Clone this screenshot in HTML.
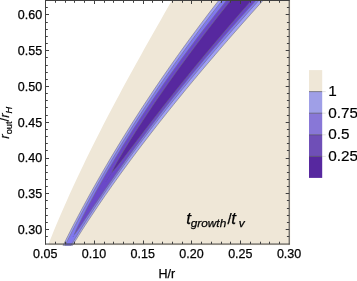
<!DOCTYPE html>
<html><head><meta charset="utf-8"><title>Contour plot</title>
<style>html,body{margin:0;padding:0;background:#fff;}body{width:357px;height:281px;overflow:hidden;position:relative;}</style>
</head><body>
<svg width="357" height="281" viewBox="0 0 357 281" style="display:block;position:absolute;left:0;top:0">
<rect x="0" y="0" width="357" height="281" fill="#fff"/>
<defs><clipPath id="cp"><rect x="45.5" y="0" width="244.7" height="245.2"/></clipPath></defs>
<g clip-path="url(#cp)">
<polygon fill="#EFE7D7" points="47.85,245.70 49.84,240.67 51.87,235.63 53.93,230.60 56.02,225.56 58.14,220.53 60.29,215.49 62.47,210.46 64.68,205.42 66.91,200.39 69.17,195.35 71.46,190.32 73.77,185.28 76.11,180.25 78.48,175.21 80.86,170.18 83.28,165.14 85.71,160.11 88.17,155.08 90.65,150.04 93.15,145.01 95.68,139.97 98.22,134.94 100.78,129.90 103.37,124.87 105.97,119.83 108.59,114.80 111.23,109.76 113.89,104.73 116.56,99.69 119.25,94.66 121.96,89.62 124.68,84.59 127.41,79.56 130.16,74.52 132.93,69.49 135.70,64.45 138.49,59.42 141.29,54.38 144.10,49.35 146.93,44.31 149.76,39.28 152.60,34.24 155.45,29.21 158.32,24.17 161.19,19.14 164.06,14.10 166.95,9.07 169.84,4.03 172.73,-1.00 300.00,-1.00 300.00,245.70"/>
</g>
<defs><clipPath id="cp2"><rect x="45.5" y="0" width="244.7" height="245.7"/></clipPath></defs>
<g clip-path="url(#cp2)" stroke="rgba(115,115,120,0.8)" stroke-width="0.7">
<polygon fill="#A0A0F5" points="62.95,245.70 65.46,240.67 67.99,235.63 70.55,230.60 73.14,225.56 75.76,220.53 78.40,215.49 81.08,210.46 83.79,205.42 86.52,200.39 89.29,195.35 92.08,190.32 94.90,185.28 97.75,180.25 100.63,175.21 103.54,170.18 106.48,165.14 109.45,160.11 112.45,155.08 115.47,150.04 118.53,145.01 121.61,139.97 124.73,134.94 127.87,129.90 131.04,124.87 134.24,119.83 137.47,114.80 140.73,109.76 144.02,104.73 147.34,99.69 150.68,94.66 154.06,89.62 157.46,84.59 160.90,79.56 164.36,74.52 167.85,69.49 171.37,64.45 174.92,59.42 178.50,54.38 182.11,49.35 185.75,44.31 189.42,39.28 193.11,34.24 196.84,29.21 200.59,24.17 204.38,19.14 208.19,14.10 212.03,9.07 215.90,4.03 219.80,-1.00 264.38,-1.00 259.83,4.03 255.31,9.07 250.80,14.10 246.31,19.14 241.84,24.17 237.40,29.21 232.97,34.24 228.57,39.28 224.19,44.31 219.83,49.35 215.50,54.38 211.19,59.42 206.90,64.45 202.64,69.49 198.40,74.52 194.19,79.56 190.00,84.59 185.84,89.62 181.71,94.66 177.60,99.69 173.53,104.73 169.48,109.76 165.46,114.80 161.46,119.83 157.50,124.87 153.57,129.90 149.66,134.94 145.79,139.97 141.95,145.01 138.14,150.04 134.36,155.08 130.62,160.11 126.91,165.14 123.23,170.18 119.58,175.21 115.97,180.25 112.40,185.28 108.86,190.32 105.35,195.35 101.88,200.39 98.45,205.42 95.06,210.46 91.70,215.49 88.38,220.53 85.09,225.56 81.85,230.60 78.65,235.63 75.48,240.67 72.36,245.70"/>
<polygon fill="#8078EE" points="64.91,245.70 67.42,240.67 69.97,235.63 72.54,230.60 75.14,225.56 77.77,220.53 80.43,215.49 83.12,210.46 85.85,205.42 88.60,200.39 91.38,195.35 94.19,190.32 97.03,185.28 99.90,180.25 102.81,175.21 105.74,170.18 108.70,165.14 111.69,160.11 114.71,155.08 117.76,150.04 120.84,145.01 123.96,139.97 127.10,134.94 130.27,129.90 133.47,124.87 136.70,119.83 139.96,114.80 143.25,109.76 146.57,104.73 149.92,99.69 153.31,94.66 156.72,89.62 160.16,84.59 163.63,79.56 167.13,74.52 170.66,69.49 174.22,64.45 177.81,59.42 181.43,54.38 185.08,49.35 188.76,44.31 192.47,39.28 196.21,34.24 199.98,29.21 203.78,24.17 207.62,19.14 211.48,14.10 215.37,9.07 219.29,4.03 223.24,-1.00 260.18,-1.00 255.63,4.03 251.11,9.07 246.62,14.10 242.14,19.14 237.69,24.17 233.26,29.21 228.86,34.24 224.47,39.28 220.12,44.31 215.79,49.35 211.48,54.38 207.20,59.42 202.95,64.45 198.72,69.49 194.52,74.52 190.35,79.56 186.21,84.59 182.09,89.62 178.01,94.66 173.95,99.69 169.92,104.73 165.92,109.76 161.95,114.80 158.02,119.83 154.11,124.87 150.24,129.90 146.39,134.94 142.58,139.97 138.81,145.01 135.06,150.04 131.35,155.08 127.68,160.11 124.03,165.14 120.43,170.18 116.86,175.21 113.32,180.25 109.82,185.28 106.36,190.32 102.93,195.35 99.54,200.39 96.19,205.42 92.88,210.46 89.60,215.49 86.37,220.53 83.17,225.56 80.01,230.60 76.90,235.63 73.82,240.67 70.79,245.70"/>
<polygon fill="#6A48C8" points="74.77,233.80 74.73,233.76 74.73,233.65 74.76,233.46 74.84,233.20 74.96,232.86 75.11,232.45 75.31,231.96 75.55,231.39 75.82,230.75 76.14,230.04 76.50,229.25 76.89,228.38 77.33,227.44 77.81,226.43 78.34,225.34 78.90,224.17 79.51,222.93 80.16,221.61 80.85,220.22 81.58,218.75 82.36,217.21 83.19,215.59 84.06,213.90 84.97,212.13 85.93,210.29 86.93,208.37 87.99,206.37 89.09,204.30 90.23,202.16 91.43,199.94 92.67,197.65 93.97,195.27 95.31,192.83 96.71,190.31 98.16,187.71 99.66,185.04 101.21,182.30 102.82,179.47 104.48,176.58 106.20,173.60 107.97,170.56 109.81,167.43 111.70,164.24 113.65,160.96 115.65,157.62 117.73,154.19 119.86,150.69 122.05,147.12 124.31,143.47 126.64,139.74 129.03,135.94 131.49,132.07 134.01,128.12 136.61,124.09 139.27,119.99 142.01,115.82 144.82,111.57 147.71,107.24 150.66,102.84 153.70,98.36 156.81,93.81 160.01,89.18 163.28,84.48 166.63,79.70 170.07,74.85 173.59,69.92 177.20,64.91 180.90,59.84 184.68,54.68 188.55,49.45 192.52,44.15 196.57,38.77 200.73,33.31 204.97,27.78 209.32,22.18 213.77,16.49 218.31,10.74 222.96,4.91 227.71,-1.00 257.20,-1.00 251.83,4.91 246.57,10.74 241.42,16.49 236.37,22.18 231.43,27.78 226.59,33.31 221.86,38.77 217.23,44.15 212.69,49.45 208.26,54.68 203.92,59.84 199.67,64.91 195.52,69.92 191.46,74.85 187.50,79.70 183.62,84.48 179.83,89.18 176.12,93.81 172.50,98.36 168.97,102.84 165.51,107.24 162.14,111.57 158.85,115.82 155.64,119.99 152.51,124.09 149.45,128.12 146.47,132.07 143.56,135.94 140.73,139.74 137.97,143.47 135.28,147.12 132.66,150.69 130.11,154.19 127.63,157.62 125.21,160.96 122.86,164.24 120.58,167.43 118.36,170.56 116.21,173.60 114.12,176.58 112.09,179.47 110.12,182.30 108.21,185.04 106.36,187.71 104.57,190.31 102.84,192.83 101.17,195.27 99.55,197.65 97.99,199.94 96.48,202.16 95.03,204.30 93.64,206.37 92.29,208.37 91.00,210.29 89.76,212.13 88.58,213.90 87.44,215.59 86.36,217.21 85.33,218.75 84.35,220.22 83.41,221.61 82.53,222.93 81.69,224.17 80.91,225.34 80.17,226.43 79.48,227.44 78.84,228.38 78.24,229.25 77.70,230.04 77.19,230.75 76.74,231.39 76.33,231.96 75.97,232.45 75.66,232.86 75.39,233.20 75.17,233.46 74.99,233.65 74.86,233.76 74.77,233.80"/>
<polygon fill="#57289F" points="112.36,171.80 112.29,171.77 112.25,171.69 112.26,171.55 112.29,171.36 112.37,171.11 112.47,170.80 112.62,170.44 112.79,170.03 113.01,169.56 113.26,169.03 113.55,168.45 113.87,167.81 114.23,167.12 114.62,166.37 115.05,165.57 115.52,164.71 116.02,163.80 116.56,162.83 117.14,161.80 117.75,160.72 118.40,159.59 119.09,158.40 119.82,157.15 120.59,155.85 121.39,154.50 122.23,153.08 123.11,151.62 124.03,150.09 124.99,148.51 125.99,146.88 127.02,145.19 128.10,143.45 129.22,141.65 130.38,139.79 131.58,137.88 132.82,135.92 134.10,133.90 135.43,131.82 136.80,129.69 138.21,127.50 139.66,125.26 141.16,122.96 142.70,120.61 144.29,118.20 145.92,115.73 147.59,113.21 149.31,110.64 151.08,108.01 152.90,105.32 154.76,102.58 156.67,99.78 158.63,96.93 160.63,94.02 162.69,91.06 164.79,88.04 166.95,84.97 169.16,81.84 171.41,78.66 173.72,75.42 176.09,72.12 178.50,68.77 180.97,65.37 183.49,61.91 186.07,58.39 188.70,54.82 191.39,51.19 194.14,47.51 196.94,43.77 199.81,39.98 202.73,36.13 205.71,32.23 208.75,28.27 211.85,24.25 215.01,20.18 218.24,16.06 221.52,11.87 224.88,7.64 228.29,3.35 231.77,-1.00 252.89,-1.00 249.05,3.35 245.28,7.64 241.57,11.87 237.93,16.06 234.36,20.18 230.85,24.25 227.40,28.27 224.02,32.23 220.70,36.13 217.44,39.98 214.24,43.77 211.10,47.51 208.03,51.19 205.01,54.82 202.05,58.39 199.15,61.91 196.30,65.37 193.51,68.77 190.78,72.12 188.10,75.42 185.48,78.66 182.92,81.84 180.40,84.97 177.94,88.04 175.53,91.06 173.18,94.02 170.87,96.93 168.62,99.78 166.42,102.58 164.26,105.32 162.16,108.01 160.11,110.64 158.10,113.21 156.14,115.73 154.23,118.20 152.37,120.61 150.56,122.96 148.79,125.26 147.06,127.50 145.38,129.69 143.75,131.82 142.16,133.90 140.62,135.92 139.12,137.88 137.67,139.79 136.25,141.65 134.88,143.45 133.56,145.19 132.27,146.88 131.03,148.51 129.83,150.09 128.67,151.62 127.56,153.08 126.48,154.50 125.45,155.85 124.45,157.15 123.50,158.40 122.58,159.59 121.71,160.72 120.87,161.80 120.08,162.83 119.32,163.80 118.61,164.71 117.93,165.57 117.29,166.37 116.69,167.12 116.13,167.81 115.60,168.45 115.12,169.03 114.67,169.56 114.26,170.03 113.89,170.44 113.56,170.80 113.27,171.11 113.01,171.36 112.79,171.55 112.61,171.69 112.46,171.77 112.36,171.80"/>
<path d="M112.36 171.80 L111.78 172.68 L111.20 173.56 L110.62 174.45 L110.04 175.33 L109.46 176.21 L108.88 177.09 L108.31 177.97 L107.73 178.85 L107.16 179.74 L106.58 180.62 L106.01 181.50" fill="none" stroke="rgba(90,80,120,0.7)" stroke-width="0.6" stroke-dasharray="1.3 0.9"/>
<path d="M74.77 233.80 L74.58 234.14 L74.39 234.47 L74.20 234.81 L74.01 235.15 L73.82 235.48 L73.63 235.82 L73.44 236.15 L73.25 236.49 L73.06 236.83 L72.87 237.16 L72.68 237.50" fill="none" stroke="rgba(90,80,120,0.7)" stroke-width="0.6" stroke-dasharray="1.3 0.9"/>
</g>
<g stroke="#404040" stroke-width="1" fill="none">
<path d="M45.5 0V244.55 M45 0.5H289.7 M45 244.05H289.7 M289.2 0V244.55"/>
</g>
<g stroke="#404040" stroke-width="1" fill="none">
<path d="M55.50 244.00v-2.30 M55.50 0.50v2.30"/>
<path d="M65.50 244.00v-2.30 M65.50 0.50v2.30"/>
<path d="M74.50 244.00v-2.30 M74.50 0.50v2.30"/>
<path d="M84.50 244.00v-2.30 M84.50 0.50v2.30"/>
<path d="M94.50 244.00v-3.50 M94.50 0.50v3.50"/>
<path d="M104.50 244.00v-2.30 M104.50 0.50v2.30"/>
<path d="M113.50 244.00v-2.30 M113.50 0.50v2.30"/>
<path d="M123.50 244.00v-2.30 M123.50 0.50v2.30"/>
<path d="M133.50 244.00v-2.30 M133.50 0.50v2.30"/>
<path d="M143.50 244.00v-3.50 M143.50 0.50v3.50"/>
<path d="M152.50 244.00v-2.30 M152.50 0.50v2.30"/>
<path d="M162.50 244.00v-2.30 M162.50 0.50v2.30"/>
<path d="M172.50 244.00v-2.30 M172.50 0.50v2.30"/>
<path d="M182.50 244.00v-2.30 M182.50 0.50v2.30"/>
<path d="M191.50 244.00v-3.50 M191.50 0.50v3.50"/>
<path d="M201.50 244.00v-2.30 M201.50 0.50v2.30"/>
<path d="M211.50 244.00v-2.30 M211.50 0.50v2.30"/>
<path d="M221.50 244.00v-2.30 M221.50 0.50v2.30"/>
<path d="M230.50 244.00v-2.30 M230.50 0.50v2.30"/>
<path d="M240.50 244.00v-3.50 M240.50 0.50v3.50"/>
<path d="M250.50 244.00v-2.30 M250.50 0.50v2.30"/>
<path d="M260.50 244.00v-2.30 M260.50 0.50v2.30"/>
<path d="M269.50 244.00v-2.30 M269.50 0.50v2.30"/>
<path d="M279.50 244.00v-2.30 M279.50 0.50v2.30"/>
<path d="M45.50 236.50h2.30 M289.20 236.50h-2.30"/>
<path d="M45.50 229.50h3.50 M289.20 229.50h-3.50"/>
<path d="M45.50 222.50h2.30 M289.20 222.50h-2.30"/>
<path d="M45.50 215.50h2.30 M289.20 215.50h-2.30"/>
<path d="M45.50 208.50h2.30 M289.20 208.50h-2.30"/>
<path d="M45.50 200.50h2.30 M289.20 200.50h-2.30"/>
<path d="M45.50 193.50h3.50 M289.20 193.50h-3.50"/>
<path d="M45.50 186.50h2.30 M289.20 186.50h-2.30"/>
<path d="M45.50 179.50h2.30 M289.20 179.50h-2.30"/>
<path d="M45.50 172.50h2.30 M289.20 172.50h-2.30"/>
<path d="M45.50 165.50h2.30 M289.20 165.50h-2.30"/>
<path d="M45.50 158.50h3.50 M289.20 158.50h-3.50"/>
<path d="M45.50 150.50h2.30 M289.20 150.50h-2.30"/>
<path d="M45.50 143.50h2.30 M289.20 143.50h-2.30"/>
<path d="M45.50 136.50h2.30 M289.20 136.50h-2.30"/>
<path d="M45.50 129.50h2.30 M289.20 129.50h-2.30"/>
<path d="M45.50 122.50h3.50 M289.20 122.50h-3.50"/>
<path d="M45.50 115.50h2.30 M289.20 115.50h-2.30"/>
<path d="M45.50 107.50h2.30 M289.20 107.50h-2.30"/>
<path d="M45.50 100.50h2.30 M289.20 100.50h-2.30"/>
<path d="M45.50 93.50h2.30 M289.20 93.50h-2.30"/>
<path d="M45.50 86.50h3.50 M289.20 86.50h-3.50"/>
<path d="M45.50 79.50h2.30 M289.20 79.50h-2.30"/>
<path d="M45.50 72.50h2.30 M289.20 72.50h-2.30"/>
<path d="M45.50 65.50h2.30 M289.20 65.50h-2.30"/>
<path d="M45.50 57.50h2.30 M289.20 57.50h-2.30"/>
<path d="M45.50 50.50h3.50 M289.20 50.50h-3.50"/>
<path d="M45.50 43.50h2.30 M289.20 43.50h-2.30"/>
<path d="M45.50 36.50h2.30 M289.20 36.50h-2.30"/>
<path d="M45.50 29.50h2.30 M289.20 29.50h-2.30"/>
<path d="M45.50 22.50h2.30 M289.20 22.50h-2.30"/>
<path d="M45.50 14.50h3.50 M289.20 14.50h-3.50"/>
<path d="M45.50 7.50h2.30 M289.20 7.50h-2.30"/>
</g>
<g font-family="'Liberation Sans', Arial, sans-serif" font-size="12.5" fill="#000">
<g stroke="#000" stroke-width="0.25">
<text x="45.20" y="257.6" text-anchor="middle">0.05</text>
<text x="93.98" y="257.6" text-anchor="middle">0.10</text>
<text x="142.75" y="257.6" text-anchor="middle">0.15</text>
<text x="191.53" y="257.6" text-anchor="middle">0.20</text>
<text x="240.30" y="257.6" text-anchor="middle">0.25</text>
<text x="289.07" y="257.6" text-anchor="middle">0.30</text>
<text x="42.2" y="233.89" text-anchor="end">0.30</text>
<text x="42.2" y="198.11" text-anchor="end">0.35</text>
<text x="42.2" y="162.33" text-anchor="end">0.40</text>
<text x="42.2" y="126.55" text-anchor="end">0.45</text>
<text x="42.2" y="90.77" text-anchor="end">0.50</text>
<text x="42.2" y="54.99" text-anchor="end">0.55</text>
<text x="42.2" y="19.21" text-anchor="end">0.60</text>
<text x="166.8" y="278" text-anchor="middle">H/r</text>
</g>
<text transform="translate(9.0,138.7) rotate(-90)" font-size="13" stroke="#000" stroke-width="0.2"><tspan font-style="italic">r</tspan><tspan font-size="9.3" dy="2.9">out</tspan><tspan dy="-2.9">/</tspan><tspan font-style="italic">r</tspan><tspan font-size="9.3" dy="2.9" font-style="italic">H</tspan></text>
<g font-style="italic" stroke="#000" stroke-width="0.25">
<text x="186.2" y="223.8" font-size="17">t</text>
<text x="190.8" y="227.0" font-size="11.8">growth</text>
<text x="227.5" y="223.5" font-size="15" font-style="normal">/</text>
<text x="231.2" y="223.8" font-size="17">t</text>
<text x="238.8" y="227.0" font-size="11.8">v</text>
</g>
</g>
<rect x="309.00" y="70.10" width="13.20" height="21.50" fill="#EFE7D7"/>
<rect x="309.00" y="91.60" width="13.20" height="21.60" fill="#9F9FE7"/>
<rect x="309.00" y="113.20" width="13.20" height="21.60" fill="#8877D7"/>
<rect x="309.00" y="134.80" width="13.20" height="21.60" fill="#6F4FB7"/>
<rect x="309.00" y="156.40" width="13.20" height="21.50" fill="#57289F"/>
<g stroke="rgba(70,70,75,0.75)" stroke-width="0.8">
<path d="M309.00 91.60h13.20"/>
<path d="M309.00 113.20h13.20"/>
<path d="M309.00 134.80h13.20"/>
<path d="M309.00 156.40h13.20"/>
</g>
<g stroke="#ccc" stroke-width="0.6">
<path d="M322.20 91.60h3.5"/>
<path d="M322.20 113.20h3.5"/>
<path d="M322.20 134.80h3.5"/>
<path d="M322.20 156.40h3.5"/>
</g>
<g font-family="'Liberation Sans', Arial, sans-serif" font-size="15.3" fill="#000" stroke="#000" stroke-width="0.2">
<text x="328.2" y="96.10">1</text>
<text x="328.2" y="117.70">0.75</text>
<text x="328.2" y="139.30">0.5</text>
<text x="328.2" y="160.90">0.25</text>
</g>
</svg>
</body></html>
